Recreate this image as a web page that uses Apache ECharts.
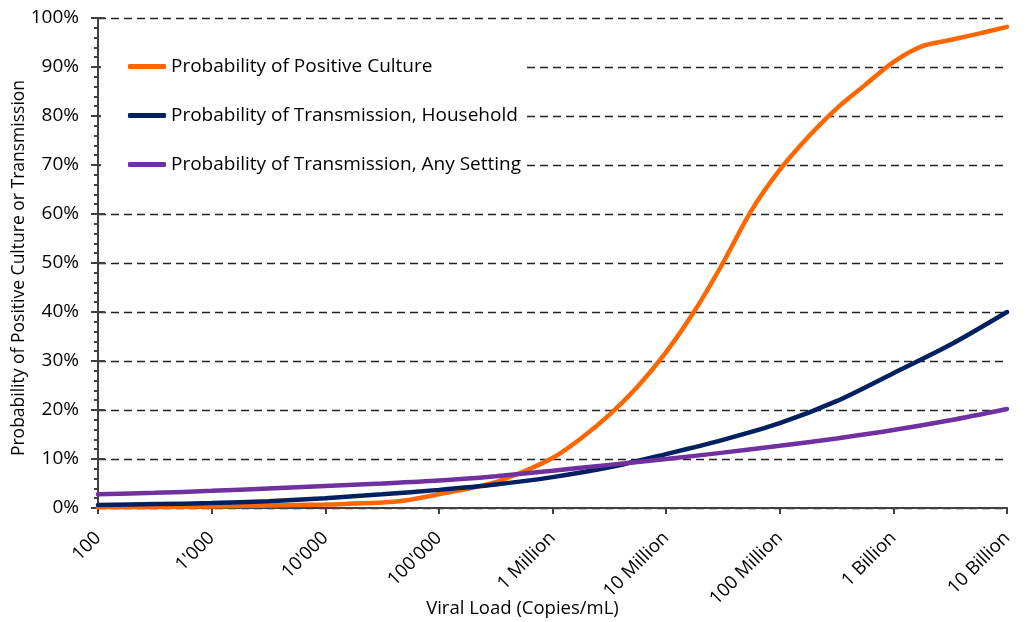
<!DOCTYPE html>
<html>
<head>
<meta charset="utf-8">
<script src="https://cdn.jsdelivr.net/npm/echarts@6/dist/echarts.min.js"></script>
<style>
html,body{margin:0;padding:0;background:#fff;}
#chart{width:1026px;height:622px;}
</style>
</head>
<body>
<div id="chart"></div>
<script>
// x values are log10 exponents of viral load (copies/mL): 2 = 100 ... 10 = 10 Billion
const seriesNames = ["Probability of Positive Culture", "Probability of Transmission, Household", "Probability of Transmission, Any Setting"];
const cultureExp = [2, 2.5, 3, 3.5, 4, 4.25, 4.5, 4.75, 5, 5.25, 5.5, 5.75, 6, 6.25, 6.5, 6.75, 7, 7.25, 7.5, 7.75, 8, 8.25, 8.5, 8.75, 9, 9.25, 9.5, 9.75, 10];
const cultureVal = [0.2, 0.2, 0.3, 0.5, 0.7, 0.9, 1.1, 1.7, 2.8, 3.9, 5.3, 7.5, 10.2, 14.2, 19, 24.8, 31.8, 40.2, 50, 60.7, 69, 75.7, 81.5, 86.3, 91, 94.2, 95.5, 96.8, 98.2];
const householdExp = [2, 2.5, 3, 3.5, 4, 4.5, 5, 5.5, 6, 6.5, 7, 7.5, 8, 8.5, 9, 9.5, 10];
const householdVal = [0.6, 0.8, 1.0, 1.4, 2.0, 2.8, 3.7, 4.8, 6.3, 8.3, 11, 13.9, 17.3, 21.8, 27.5, 33.3, 40];
const anyExp = [2, 2.5, 3, 3.5, 4, 4.5, 5, 5.5, 6, 6.5, 7, 7.5, 8, 8.5, 9, 9.5, 10];
const anyVal = [2.8, 3.1, 3.5, 4.0, 4.5, 5.0, 5.6, 6.5, 7.6, 8.8, 10.0, 11.3, 12.7, 14.2, 15.9, 17.9, 20.2];
const xTickLabels = ["100", "1'000", "10'000", "100'000", "1 Million", "10 Million", "100 Million", "1 Billion", "10 Billion"];
const colors = ["#FF6600", "#002060", "#7030A0"];

function pts(ex, vals) { return ex.map((e, i) => [e, vals[i]]); }
const FONT = "Open Sans";
const chart = echarts.init(document.getElementById('chart'));
const labelMap = {};
xTickLabels.forEach((t, i) => { labelMap[i + 2] = t; });

const mkSeries = (name, data, color) => ({
  name, type: 'line', data, smooth: 0.3, symbol: 'none',
  lineStyle: { color, width: 4.5, cap: 'round' }, itemStyle: { color }, clip: false, z: 3
});

chart.setOption({
  animation: false,
  backgroundColor: '#fff',
  textStyle: { fontFamily: FONT, color: '#000' },
  grid: { left: 98, right: 19, top: 18, bottom: 114, containLabel: false, outerBoundsMode: 'none' },
  legend: {
    orient: 'vertical', left: 101, top: 40,
    padding: [17, 6, 17, 27],
    itemGap: 30, itemWidth: 38, itemHeight: 5,
    icon: 'roundRect',
    backgroundColor: '#fff', z: 5,
    textStyle: { fontFamily: FONT, fontSize: 19, color: '#000' },
    data: seriesNames
  },
  xAxis: {
    type: 'value', min: 2, max: 10, interval: 1,
    name: 'Viral Load (Copies/mL)', nameLocation: 'middle', nameGap: 91, nameMoveOverlap: false,
    nameTextStyle: { fontFamily: FONT, fontSize: 18.5, color: '#000', padding: [0, 60, 0, 0] },
    axisLine: { lineStyle: { color: '#404040', width: 2 } },
    axisTick: { show: true, length: 6, lineStyle: { color: '#404040', width: 2 } },
    axisLabel: {
      rotate: 45, margin: 27, fontSize: 18.5, color: '#000', fontFamily: FONT,
      formatter: v => labelMap[Math.round(v)] || ''
    },
    splitLine: { show: false }
  },
  yAxis: [{
    type: 'value', min: 0, max: 100, interval: 10,
    name: 'Probability of Positive Culture or Transmission', nameLocation: 'middle', nameGap: 70, nameMoveOverlap: false,
    nameTextStyle: { fontFamily: FONT, fontSize: 17.5, color: '#000', padding: [0, 10, 0, 0] },
    axisLine: { show: true, lineStyle: { color: '#404040', width: 2 } },
    axisTick: { show: true, length: 7, lineStyle: { color: '#404040', width: 2 } },
    minorTick: { show: true, splitNumber: 5, length: 4, lineStyle: { color: '#404040', width: 2 } },
    axisLabel: { formatter: '{value}%', fontSize: 19, margin: 19, color: '#000', fontFamily: FONT },
    splitLine: { show: true, lineStyle: { color: '#222', width: 1.3, type: [8, 5] } }
  }, {
    type: 'value', min: 0, max: 100, interval: 10, position: 'left',
    axisLine: { show: false },
    axisTick: { show: true, inside: true, length: 7, lineStyle: { color: '#404040', width: 2 } },
    axisLabel: { show: false }, splitLine: { show: false }
  }],
  series: [
    mkSeries(seriesNames[0], pts(cultureExp, cultureVal), colors[0]),
    mkSeries(seriesNames[1], pts(householdExp, householdVal), colors[1]),
    mkSeries(seriesNames[2], pts(anyExp, anyVal), colors[2])
  ]
});
</script>
</body>
</html>
